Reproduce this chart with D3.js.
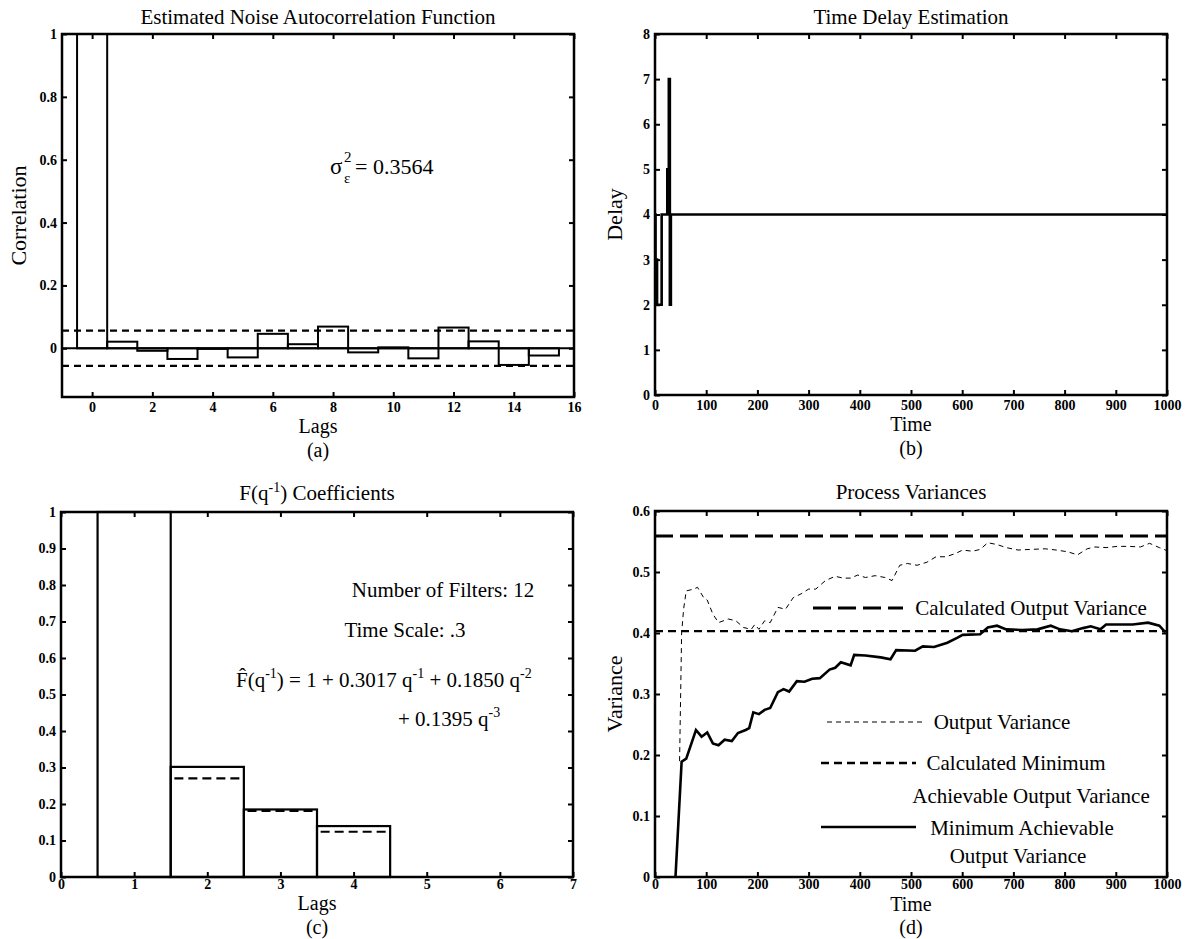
<!DOCTYPE html>
<html><head><meta charset="utf-8">
<script src="https://cdn.jsdelivr.net/npm/d3@7"></script>
<style>
body{margin:0;background:#fff}
text{font-family:"Liberation Serif","Times New Roman",serif;fill:#000}
</style>
</head><body>
<svg id="chart" width="1190" height="939"></svg>
<script>
// ---------- DATA ----------
// (a) Estimated noise autocorrelation
const acfLags   = [0,1,2,3,4,5,6,7,8,9,10,11,12,13,14,15];
const acfValues = [1,0.021,-0.008,-0.034,-0.002,-0.029,0.046,0.013,0.069,-0.013,0.003,-0.032,0.066,0.022,-0.053,-0.023];
const acfBound  = 0.056;
const acfTicksX = [0,2,4,6,8,10,12,14,16];
const acfTicksY = [0,0.2,0.4,0.6,0.8,1];

// (b) Time delay estimation (step series)
const delayTime  = [0,1,4,6,13,24,27,29,31,1000];
const delayValue = [4,3,2,2,4,5,7,2,4,4];
const timeTicks  = [0,100,200,300,400,500,600,700,800,900,1000];
const delayTicks = [0,1,2,3,4,5,6,7,8];

// (c) F(q^-1) coefficients
const filterLags      = [1,2,3,4];
const filterEstimated = [1,0.3017,0.1850,0.1395];
const filterTrue      = [1,0.27,0.181,0.124];
const filterTicksX    = [0,1,2,3,4,5,6,7];
const filterTicksY    = [0,0.1,0.2,0.3,0.4,0.5,0.6,0.7,0.8,0.9,1];

// (d) Process variances
const outTime = [48,52,56,61,76,83,95,102,113,124,143,158,173,188,195,203,214,225,240,255,270,285,300,314,333,352,367,382,396,411,430,449,463,478,493,512,531,549,568,586,601,620,635,650,668,686,709,732,762,784,807,825,844,859,881,903,926,948,966,985,1000];
const outputVariance = [0.19,0.40,0.44,0.469,0.472,0.475,0.458,0.454,0.431,0.417,0.423,0.420,0.409,0.406,0.414,0.406,0.420,0.417,0.442,0.439,0.458,0.464,0.472,0.472,0.486,0.493,0.490,0.490,0.495,0.491,0.494,0.491,0.486,0.511,0.514,0.511,0.516,0.525,0.525,0.530,0.536,0.534,0.537,0.548,0.545,0.540,0.536,0.537,0.538,0.536,0.533,0.528,0.538,0.541,0.540,0.542,0.542,0.541,0.547,0.540,0.535];
const minTime = [40,52,61,80,91,102,113,124,136,150,162,177,184,192,203,214,225,240,251,262,277,292,307,322,341,352,363,382,389,411,441,460,471,508,523,545,571,590,601,635,650,668,686,717,747,773,791,814,836,851,870,881,911,933,963,985,997];
const minAchievableVariance = [0,0.189,0.194,0.241,0.230,0.237,0.219,0.216,0.225,0.223,0.236,0.241,0.244,0.270,0.267,0.274,0.277,0.303,0.308,0.304,0.321,0.320,0.325,0.326,0.340,0.343,0.352,0.347,0.364,0.363,0.360,0.357,0.372,0.371,0.378,0.377,0.384,0.392,0.397,0.398,0.409,0.412,0.406,0.405,0.406,0.412,0.406,0.403,0.408,0.411,0.406,0.414,0.414,0.414,0.417,0.412,0.401];
const calcOutputVariance = 0.559;
const calcMinVariance    = 0.403;
const varTicks = [0,0.1,0.2,0.3,0.4,0.5,0.6];

// ---------- DRAWING ----------
const svg = d3.select("#chart");
const fmt = d => d === 0 ? "0" : d === 1 ? "1" : (Number.isInteger(d) ? String(d) : d3.format(".1f")(d));

function panel(o){
  const g = svg.append("g");
  const x = d3.scaleLinear().domain(o.xDomain).range([o.x0,o.x1]);
  const y = d3.scaleLinear().domain(o.yDomain).range([o.y1,o.y0]);
  const style = sel => {
    sel.select(".domain").remove();
    sel.selectAll(".tick line").attr("stroke","#000").attr("stroke-width",2);
    sel.selectAll(".tick text").attr("font-family","Liberation Serif, serif")
      .attr("font-size",14).attr("font-weight","bold").attr("fill","#000");
  };
  g.append("g").attr("transform",`translate(0,${o.y1})`)
    .call(d3.axisBottom(x).tickValues(o.xTicks).tickFormat(fmt).tickSize(-5).tickPadding(o.xPad)).call(style);
  g.append("g").attr("transform",`translate(0,${o.y0})`)
    .call(d3.axisTop(x).tickValues(o.xTicks).tickFormat("").tickSize(-5)).call(style);
  g.append("g").attr("transform",`translate(${o.x0},0)`)
    .call(d3.axisLeft(y).tickValues(o.yTicks).tickFormat(fmt).tickSize(-5).tickPadding(5)).call(style);
  g.append("g").attr("transform",`translate(${o.x1},0)`)
    .call(d3.axisRight(y).tickValues(o.yTicks).tickFormat("").tickSize(-5)).call(style);
  const plot = g.append("g");
  g.append("rect").attr("x",o.x0).attr("y",o.y0).attr("width",o.x1-o.x0).attr("height",o.y1-o.y0)
    .attr("fill","none").attr("stroke","#000").attr("stroke-width",2.5);
  const t = g.append("text").attr("x",(o.x0+o.x1)/2).attr("y",o.titleY).attr("text-anchor","middle").attr("font-size",21);
  o.title(t);
  g.append("text").attr("x",(o.x0+o.x1)/2).attr("y",o.xLabelY).attr("text-anchor","middle").attr("font-size",20).text(o.xLabel);
  g.append("text").attr("x",(o.x0+o.x1)/2).attr("y",o.capY).attr("text-anchor","middle").attr("font-size",20).text(o.caption);
  if(o.yLabel){
    g.append("text").attr("transform",`translate(${o.yLabelX},${(o.y0+o.y1)/2}) rotate(-90)`)
      .attr("text-anchor","middle").attr("font-size",22).text(o.yLabel);
  }
  return {g:plot, x, y, root:g};
}

// ---- (a) ----
{
  const p = panel({x0:62,x1:574,y0:34,y1:397,xDomain:[-1,16],yDomain:[-0.155,1],
    xTicks:acfTicksX,yTicks:acfTicksY,xPad:5,titleY:24,xLabelY:433,capY:457,
    title:t=>t.text("Estimated Noise Autocorrelation Function"),xLabel:"Lags",caption:"(a)",
    yLabel:"Correlation",yLabelX:26});
  const {g,x,y} = p;
  g.append("line").attr("x1",x(-1)).attr("x2",x(16)).attr("y1",y(0)).attr("y2",y(0)).attr("stroke","#000").attr("stroke-width",2);
  g.selectAll("rect.bar").data(acfLags).join("rect").attr("class","bar")
    .attr("x",d=>x(d-0.5)).attr("width",d=>x(d+0.5)-x(d-0.5))
    .attr("y",(d,i)=>y(Math.max(0,acfValues[i]))).attr("height",(d,i)=>Math.abs(y(0)-y(acfValues[i])))
    .attr("fill","none").attr("stroke","#000").attr("stroke-width",2);
  [acfBound,-acfBound].forEach(v=>{
    g.append("line").attr("x1",x(-1)).attr("x2",x(16)).attr("y1",y(v)).attr("y2",y(v))
      .attr("stroke","#000").attr("stroke-width",2.2).attr("stroke-dasharray","7,5");
  });
  const ann = p.root.append("g");
  ann.append("text").attr("x",330).attr("y",174).attr("font-size",23).text("σ");
  ann.append("text").attr("x",344).attr("y",162).attr("font-size",15).text("2");
  ann.append("text").attr("x",344).attr("y",183).attr("font-size",15).text("ε");
  ann.append("text").attr("x",355).attr("y",174).attr("font-size",22).text("= 0.3564");
}

// ---- (b) ----
{
  const p = panel({x0:655,x1:1167,y0:34,y1:395,xDomain:[0,1000],yDomain:[0,8],
    xTicks:timeTicks,yTicks:delayTicks,xPad:5,titleY:24,xLabelY:431,capY:455,
    title:t=>t.text("Time Delay Estimation"),xLabel:"Time",caption:"(b)",
    yLabel:"Delay",yLabelX:622});
  const {g,x,y} = p;
  const line = d3.line().x((d,i)=>x(delayTime[i])).y((d,i)=>y(delayValue[i])).curve(d3.curveStepAfter);
  g.append("path").attr("d",line(delayTime)).attr("fill","none").attr("stroke","#000").attr("stroke-width",2.6);
}

// ---- (c) ----
{
  const p = panel({x0:61,x1:573,y0:512,y1:877,xDomain:[0,7],yDomain:[0,1],
    xTicks:filterTicksX,yTicks:filterTicksY,xPad:2,titleY:500,xLabelY:910,capY:934,
    title:t=>{t.append("tspan").text("F(q");t.append("tspan").attr("font-size",14).attr("dy",-8).text("-1");
              t.append("tspan").attr("dy",8).text(") Coefficients");},
    xLabel:"Lags",caption:"(c)"});
  const {g,x,y} = p;
  g.selectAll("rect.bar").data(filterLags).join("rect").attr("class","bar")
    .attr("x",d=>x(d-0.5)).attr("width",d=>x(d+0.5)-x(d-0.5))
    .attr("y",(d,i)=>y(filterEstimated[i])).attr("height",(d,i)=>y(0)-y(filterEstimated[i]))
    .attr("fill","none").attr("stroke","#000").attr("stroke-width",2.2);
  g.selectAll("line.tru").data(filterLags).join("line").attr("class","tru")
    .attr("x1",d=>x(d-0.45)).attr("x2",d=>x(d+0.45))
    .attr("y1",(d,i)=>y(filterTrue[i])).attr("y2",(d,i)=>y(filterTrue[i]))
    .attr("stroke","#000").attr("stroke-width",2.2).attr("stroke-dasharray","9,5");
  const ann = p.root.append("g");
  ann.append("text").attr("x",443).attr("y",597).attr("text-anchor","middle").attr("font-size",21).text("Number of Filters: 12");
  ann.append("text").attr("x",405).attr("y",637).attr("text-anchor","middle").attr("font-size",21).text("Time Scale: .3");
  const eq = ann.append("text").attr("x",236).attr("y",687).attr("font-size",21);
  eq.append("tspan").text("F\u0302(q");
  eq.append("tspan").attr("font-size",14).attr("dy",-9).text("-1");
  eq.append("tspan").attr("dy",9).text(") = 1 + 0.3017 q");
  eq.append("tspan").attr("font-size",14).attr("dy",-9).text("-1");
  eq.append("tspan").attr("dy",9).text("  + 0.1850 q");
  eq.append("tspan").attr("font-size",14).attr("dy",-9).text("-2");
  const eq2 = ann.append("text").attr("x",398).attr("y",726).attr("font-size",21);
  eq2.append("tspan").text("+ 0.1395 q");
  eq2.append("tspan").attr("font-size",14).attr("dy",-9).text("-3");
}

// ---- (d) ----
{
  const p = panel({x0:655,x1:1167,y0:511,y1:877,xDomain:[0,1000],yDomain:[0,0.6],
    xTicks:timeTicks,yTicks:varTicks,xPad:2,titleY:499,xLabelY:911,capY:934,
    title:t=>t.text("Process Variances"),xLabel:"Time",caption:"(d)",
    yLabel:"Variance",yLabelX:622});
  const {g,x,y} = p;
  g.append("line").attr("x1",x(0)).attr("x2",x(1000)).attr("y1",y(calcOutputVariance)).attr("y2",y(calcOutputVariance))
    .attr("stroke","#000").attr("stroke-width",3).attr("stroke-dasharray","18,7");
  g.append("line").attr("x1",x(0)).attr("x2",x(1000)).attr("y1",y(calcMinVariance)).attr("y2",y(calcMinVariance))
    .attr("stroke","#000").attr("stroke-width",2.4).attr("stroke-dasharray","8,5");
  const lo = d3.line().x((d,i)=>x(outTime[i])).y((d,i)=>y(outputVariance[i]));
  g.append("path").attr("d",lo(outTime)).attr("fill","none").attr("stroke","#000").attr("stroke-width",1).attr("stroke-dasharray","5,4");
  const lm = d3.line().x((d,i)=>x(minTime[i])).y((d,i)=>y(minAchievableVariance[i]));
  g.append("path").attr("d",lm(minTime)).attr("fill","none").attr("stroke","#000").attr("stroke-width",2.6);
  // legend
  const L = p.root.append("g");
  const item = (x1,x2,yy,w,dash)=>L.append("line").attr("x1",x1).attr("x2",x2).attr("y1",yy).attr("y2",yy)
      .attr("stroke","#000").attr("stroke-width",w).attr("stroke-dasharray",dash);
  item(813,903,608,3,"18,7");
  item(827,924,722,1,"5,4");
  item(821,916,763,2.4,"8,5");
  item(821,916,827,2.6,null);
  const lt = (cx,yy,s)=>L.append("text").attr("x",cx).attr("y",yy).attr("text-anchor","middle").attr("font-size",21).text(s);
  lt(1031,615,"Calculated Output Variance");
  lt(1002,729,"Output Variance");
  lt(1016,770,"Calculated Minimum");
  lt(1031,803,"Achievable Output Variance");
  lt(1022,835,"Minimum Achievable");
  lt(1018,863,"Output Variance");
}
</script>
</body></html>
